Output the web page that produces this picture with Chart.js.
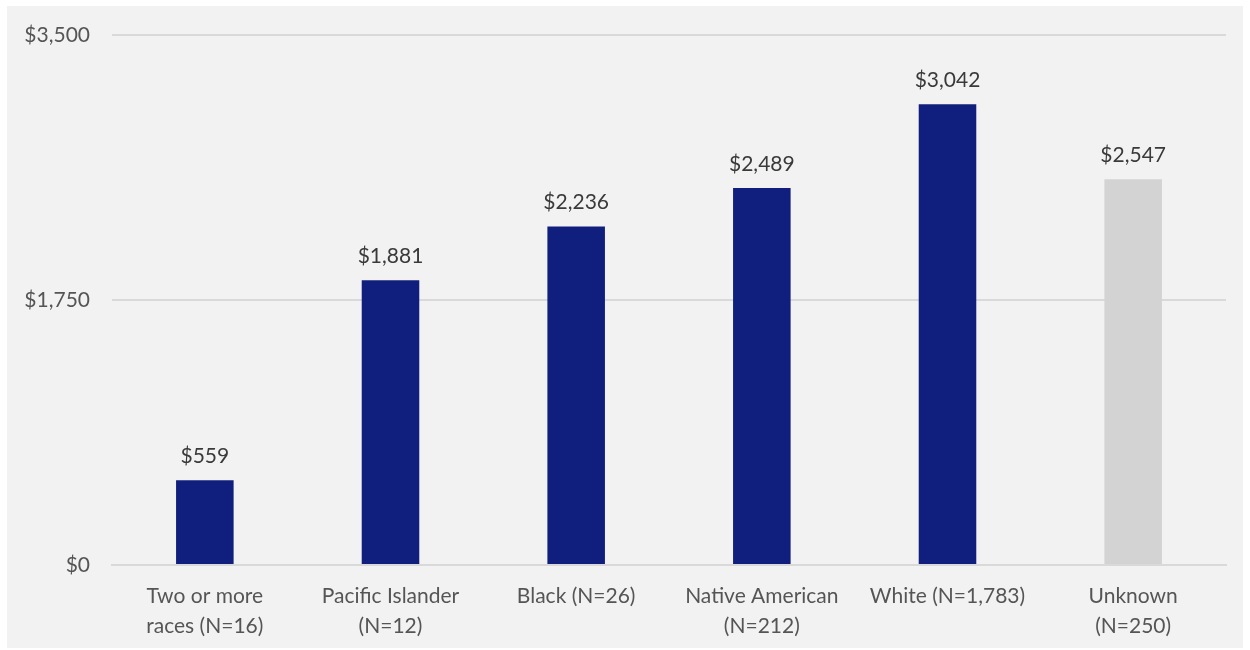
<!DOCTYPE html>
<html>
<head>
<meta charset="utf-8">
<script src="https://cdn.jsdelivr.net/npm/chart.js@4"></script>
<style>
  html, body { margin: 0; padding: 0; background: #ffffff; }
  #panel { position: absolute; left: 7px; top: 6px; width: 1236px; height: 642px; background: #f2f2f2; }
  canvas { display: block; }
</style>
</head>
<body>
<div id="panel"><canvas id="chart" width="1236" height="642"></canvas></div>
<script>
// Average amount by race group
const categories = [
  ["Two or more", "races (N=16)"],
  ["Pacific Islander", "(N=12)"],
  "Black (N=26)",
  ["Native American", "(N=212)"],
  "White (N=1,783)",
  ["Unknown", "(N=250)"]
];
const amounts = [559, 1881, 2236, 2489, 3042, 2547];
const barColors = ["#101f7d", "#101f7d", "#101f7d", "#101f7d", "#101f7d", "#d3d3d3"];
const yTicks = [0, 1750, 3500];

const FONT = "Lato, 'Open Sans', sans-serif";
const money = v => "$" + v.toLocaleString("en-US");

// Writes each bar's value just above it
const valueLabels = {
  id: "valueLabels",
  afterDatasetsDraw(chart) {
    const ctx = chart.ctx;
    const meta = chart.getDatasetMeta(0);
    ctx.save();
    ctx.font = "21px " + FONT;
    ctx.fillStyle = "#3a3a3a";
    ctx.textAlign = "center";
    ctx.textBaseline = "middle";
    meta.data.forEach((bar, i) => {
      ctx.fillText(money(amounts[i]), bar.x, bar.y - 24);
    });
    ctx.restore();
  }
};

new Chart(document.getElementById("chart"), {
  type: "bar",
  data: {
    labels: categories,
    datasets: [{
      data: amounts,
      backgroundColor: barColors,
      borderWidth: 0,
      barPercentage: 0.62,
      categoryPercentage: 0.5
    }]
  },
  options: {
    responsive: false,
    animation: false,
    layout: { padding: { top: 29, right: 17, left: 0, bottom: 0 } },
    plugins: { legend: { display: false }, tooltip: { enabled: false } },
    scales: {
      x: {
        grid: { display: false, drawTicks: false },
        border: { display: true, color: "#d9d9d9", width: 2 },
        ticks: {
          color: "#555555",
          font: { family: FONT, size: 21, lineHeight: 1.45 },
          padding: 16,
          maxRotation: 0,
          autoSkip: false
        },
        afterFit(scale) { scale.height = 83; }
      },
      y: {
        min: 0,
        max: 3500,
        afterBuildTicks(scale) { scale.ticks = yTicks.map(v => ({ value: v })); },
        grid: { color: "#d9d9d9", lineWidth: 2, drawTicks: false },
        border: { display: false },
        ticks: {
          color: "#555555",
          font: { family: FONT, size: 21 },
          padding: 22,
          callback: v => money(v)
        },
        afterFit(scale) {
          scale.width = 105;
          // the tick gap should not push the plot area down
          scale.paddingTop = 0;
          scale.paddingBottom = 0;
        }
      }
    }
  },
  plugins: [valueLabels]
});
</script>
</body>
</html>
